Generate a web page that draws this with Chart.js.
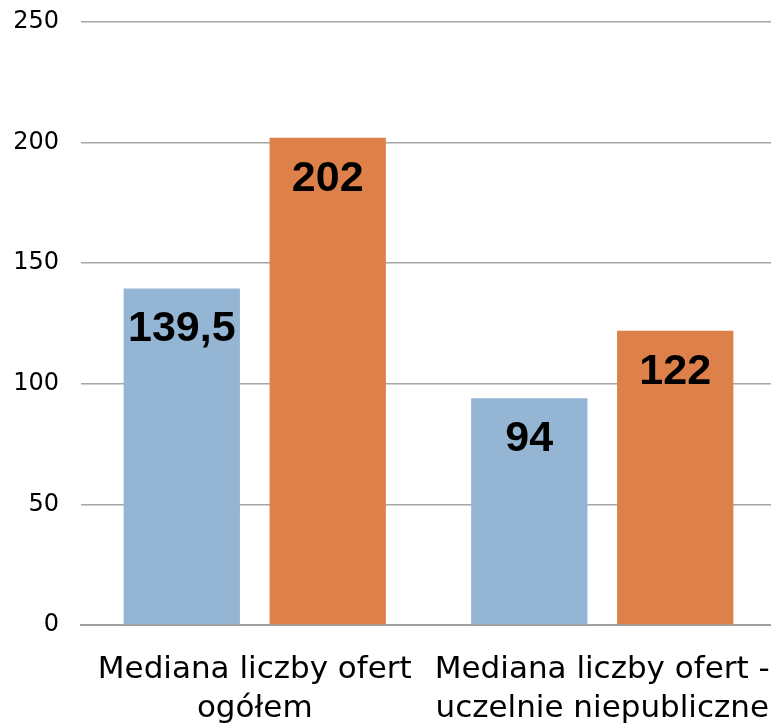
<!DOCTYPE html>
<html>
<head>
<meta charset="utf-8">
<script src="https://cdn.jsdelivr.net/npm/chart.js@4"></script>
<style>
  html, body { margin: 0; padding: 0; background: #fff; overflow: hidden; }
  #wrap { width: 776px; height: 725px; position: relative; }
</style>
</head>
<body>
<div id="wrap"><canvas id="chart"></canvas></div>
<script>
// ===== data =====
const categories = [
  ['Mediana liczby ofert', 'ogółem'],
  ['Mediana liczby ofert -', 'uczelnie niepubliczne']
];
const seriesBlue = [139.5, 94];
const seriesOrange = [202, 122];
const yTicks = [0, 50, 100, 150, 200, 250];

const FONT = "'DejaVu Sans', sans-serif";

// value labels drawn inside the top of each bar
const insideLabels = {
  id: 'insideLabels',
  afterDatasetsDraw(chart) {
    const ctx = chart.ctx;
    ctx.save();
    ctx.font = "bold 43px 'Liberation Sans', sans-serif";
    ctx.fillStyle = '#000';
    ctx.textAlign = 'center';
    ctx.textBaseline = 'middle';
    chart.data.datasets.forEach((ds, i) => {
      chart.getDatasetMeta(i).data.forEach((bar, j) => {
        const txt = String(ds.data[j]).replace('.', ',');
        ctx.fillText(txt, bar.x, bar.y + 41);
      });
    });
    ctx.restore();
  }
};

// no automatic label padding, the layout is fixed by hand
function noPad(scale) {
  scale.paddingLeft = 0;
  scale.paddingRight = 0;
  scale.paddingTop = 0;
  scale.paddingBottom = 0;
}

new Chart(document.getElementById('chart'), {
  type: 'bar',
  data: {
    labels: categories,
    datasets: [
      {
        label: 'A',
        data: seriesBlue,
        backgroundColor: '#95B5D4',
        categoryPercentage: 0.84,
        barPercentage: 0.797
      },
      {
        label: 'B',
        data: seriesOrange,
        backgroundColor: '#DE8049',
        categoryPercentage: 0.84,
        barPercentage: 0.797
      }
    ]
  },
  options: {
    responsive: true,
    maintainAspectRatio: false,
    animation: false,
    layout: { padding: { top: 22, right: 0, left: 0, bottom: 0 } },
    plugins: {
      legend: { display: false },
      tooltip: { enabled: false }
    },
    scales: {
      x: {
        grid: { display: false },
        border: { display: true, color: '#a0a0a0', width: 2 },
        ticks: {
          color: '#000',
          font: { family: FONT, size: 31, lineHeight: 1.25 },
          padding: 18,
          maxRotation: 0,
          autoSkip: false
        },
        afterFit(scale) { scale.height = 100; noPad(scale); }
      },
      y: {
        min: 0,
        max: 250,
        afterBuildTicks(scale) { scale.ticks = yTicks.map(v => ({ value: v })); },
        grid: { color: '#a6a6a6', lineWidth: 1.5, drawTicks: false },
        border: { display: false },
        ticks: {
          color: '#000',
          font: { family: FONT, size: 24 },
          padding: 22
        },
        afterFit(scale) { scale.width = 81; noPad(scale); }
      }
    }
  },
  plugins: [insideLabels]
});
</script>
</body>
</html>
